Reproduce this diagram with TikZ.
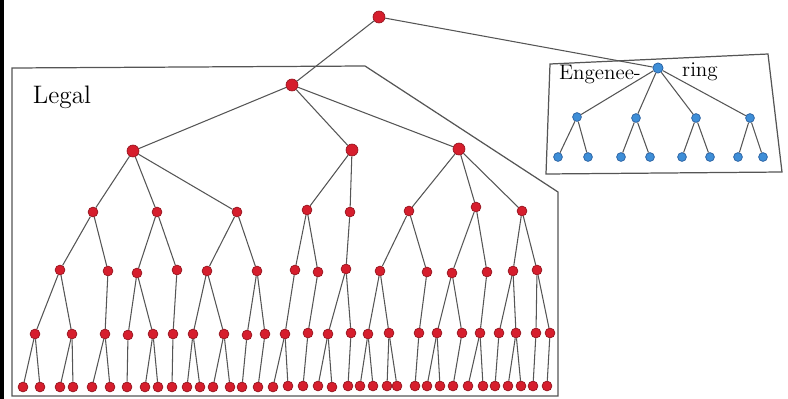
\documentclass[tikz,border=0pt]{standalone}
\usepackage{tikz}
\usepackage{xcolor}

\definecolor{nodered}{RGB}{214,30,45}
\definecolor{rededge}{RGB}{150,22,32}
\definecolor{nodeblue}{RGB}{62,142,215}
\definecolor{blueedge}{RGB}{40,95,160}
\definecolor{linegray}{RGB}{85,85,85}

\begin{document}
\begin{tikzpicture}[x=0.02cm,y=-0.02cm]
\useasboundingbox (0,0) rectangle (788,399);

% frame edge and the two boxes
\draw[line width=2.5pt,black] (1.5,0) -- (1.5,399);
\draw[linegray,line width=0.7pt] (12,396) -- (12,68) -- (365,66) -- (558,192) -- (558,396) -- cycle;
\draw[linegray,line width=0.7pt] (550,64) -- (768,54) -- (782,172) -- (546,174) -- cycle;

\node (legaltext) at (62,97) {\Large Legal};
\node (engtext) at (600,74) {\large Engenee-};
\node (ringtext) at (700,72) {\large ring};

\begin{scope}[every node/.style={circle,draw=rededge,fill=nodered,thin,minimum size=5.6pt,inner sep=0pt}]
    \node (top)[minimum size=6.8pt] at (379,17) {};
    \node (a0)[minimum size=6.8pt] at (292,85) {};
    \node (a1)[minimum size=6.8pt] at (133,151) {};
    \node (a2)[minimum size=6.8pt] at (352,150) {};
    \node (a3)[minimum size=6.8pt] at (459,149) {};
    \node (b1) at (93,212) {};
    \node (b2) at (157,212) {};
    \node (b3) at (237,212) {};
    \node (b4) at (307,210) {};
    \node (b5) at (350,212) {};
    \node (b6) at (409,211) {};
    \node (b7) at (476,207) {};
    \node (b8) at (522,211) {};
    \node (c1) at (60,270) {};
    \node (c2) at (108,271) {};
    \node (c3) at (137,273) {};
    \node (c4) at (177,270) {};
    \node (c5) at (207,271) {};
    \node (c6) at (257,271) {};
    \node (c7) at (295,270) {};
    \node (c8) at (318,272) {};
    \node (c9) at (346,269) {};
    \node (c10) at (380,271) {};
    \node (c11) at (427,272) {};
    \node (c12) at (452,273) {};
    \node (c13) at (487,272) {};
    \node (c14) at (513,271) {};
    \node (c15) at (537,270) {};
    \node (d1) at (35,334) {};
    \node (d2) at (72,334) {};
    \node (d3) at (105,334) {};
    \node (d4) at (128,335) {};
    \node (d5) at (153,334) {};
    \node (d6) at (173,334) {};
    \node (d7) at (193,334) {};
    \node (d8) at (224,334) {};
    \node (d9) at (247,335) {};
    \node (d10) at (265,334) {};
    \node (d11) at (285,334) {};
    \node (d12) at (308,333) {};
    \node (d13) at (328,334) {};
    \node (d14) at (351,333) {};
    \node (d15) at (368,334) {};
    \node (d16) at (389,333) {};
    \node (d17) at (419,333) {};
    \node (d18) at (437,333) {};
    \node (d19) at (462,333) {};
    \node (d20) at (480,333) {};
    \node (d21) at (499,333) {};
    \node (d22) at (516,333) {};
    \node (d23) at (536,333) {};
    \node (d24) at (550,333) {};
    \node (e1) at (23,387) {};
    \node (e2) at (40,387) {};
    \node (e3) at (60,387) {};
    \node (e4) at (73,387) {};
    \node (e5) at (92,387) {};
    \node (e6) at (110,387) {};
    \node (e7) at (127,387) {};
    \node (e8) at (145,387) {};
    \node (e9) at (158,387) {};
    \node (e10) at (172,387) {};
    \node (e11) at (187,387) {};
    \node (e12) at (200,387) {};
    \node (e13) at (213,387) {};
    \node (e14) at (230,387) {};
    \node (e15) at (242,387) {};
    \node (e16) at (258,387) {};
    \node (e17) at (273,387) {};
    \node (e18) at (288,386) {};
    \node (e19) at (303,386) {};
    \node (e20) at (318,386) {};
    \node (e21) at (332,387) {};
    \node (e22) at (348,386) {};
    \node (e23) at (360,386) {};
    \node (e24) at (373,386) {};
    \node (e25) at (387,386) {};
    \node (e26) at (397,386) {};
    \node (e27) at (415,386) {};
    \node (e28) at (427,386) {};
    \node (e29) at (440,386) {};
    \node (e30) at (453,386) {};
    \node (e31) at (468,386) {};
    \node (e32) at (483,386) {};
    \node (e33) at (495,386) {};
    \node (e34) at (508,386) {};
    \node (e35) at (521,386) {};
    \node (e36) at (533,386) {};
    \node (e37) at (547,386) {};
\end{scope}

\begin{scope}[every node/.style={circle,draw=blueedge,fill=nodeblue,thin,minimum size=5pt,inner sep=0pt}]
    \node (g0)[minimum size=5.8pt] at (658,68) {};
    \node (g1) at (577,117) {};
    \node (g2) at (636,118) {};
    \node (g3) at (696,118) {};
    \node (g4) at (750,118) {};
    \node (h1) at (558,157) {};
    \node (h2) at (588,157) {};
    \node (h3) at (621,157) {};
    \node (h4) at (650,157) {};
    \node (h5) at (682,157) {};
    \node (h6) at (710,157) {};
    \node (h7) at (738,157) {};
    \node (h8) at (763,157) {};
\end{scope}

\begin{scope}[every edge/.style={draw=linegray,line width=0.6pt}]
    \path (top) edge (a0) edge (g0);
    \path (a0) edge (a1) edge (a2) edge (a3);
    \path (a1) edge (b1) edge (b2) edge (b3);
    \path (a2) edge (b4) edge (b5);
    \path (a3) edge (b6) edge (b7) edge (b8);
    \path (b1) edge (c1) edge (c2);
    \path (b2) edge (c3) edge (c4);
    \path (b3) edge (c5) edge (c6);
    \path (b4) edge (c7) edge (c8);
    \path (b5) edge (c9);
    \path (b6) edge (c10) edge (c11);
    \path (b7) edge (c12) edge (c13);
    \path (b8) edge (c14) edge (c15);
    \path (c1) edge (d1) edge (d2);
    \path (c2) edge (d3);
    \path (c3) edge (d4) edge (d5);
    \path (c4) edge (d6);
    \path (c5) edge (d7) edge (d8);
    \path (c6) edge (d9) edge (d10);
    \path (c7) edge (d11);
    \path (c8) edge (d12);
    \path (c9) edge (d13) edge (d14);
    \path (c10) edge (d15) edge (d16);
    \path (c11) edge (d17);
    \path (c12) edge (d18) edge (d19);
    \path (c13) edge (d20);
    \path (c14) edge (d21) edge (d22);
    \path (c15) edge (d23) edge (d24);
    \path (d1) edge (e1) edge (e2);
    \path (d2) edge (e3) edge (e4);
    \path (d3) edge (e5) edge (e6);
    \path (d4) edge (e7);
    \path (d5) edge (e8) edge (e9);
    \path (d6) edge (e10);
    \path (d7) edge (e11) edge (e12);
    \path (d8) edge (e13) edge (e14);
    \path (d9) edge (e15);
    \path (d10) edge (e16);
    \path (d11) edge (e17) edge (e18);
    \path (d12) edge (e19);
    \path (d13) edge (e20) edge (e21);
    \path (d14) edge (e22);
    \path (d15) edge (e23) edge (e24);
    \path (d16) edge (e25) edge (e26);
    \path (d17) edge (e27);
    \path (d18) edge (e28) edge (e29);
    \path (d19) edge (e30);
    \path (d20) edge (e31) edge (e32);
    \path (d21) edge (e33);
    \path (d22) edge (e34) edge (e35);
    \path (d23) edge (e36);
    \path (d24) edge (e37);
    \path (g0) edge (g1) edge (g2) edge (g3) edge (g4);
    \path (g1) edge (h1) edge (h2);
    \path (g2) edge (h3) edge (h4);
    \path (g3) edge (h5) edge (h6);
    \path (g4) edge (h7) edge (h8);
\end{scope}
\end{tikzpicture}
\end{document}
